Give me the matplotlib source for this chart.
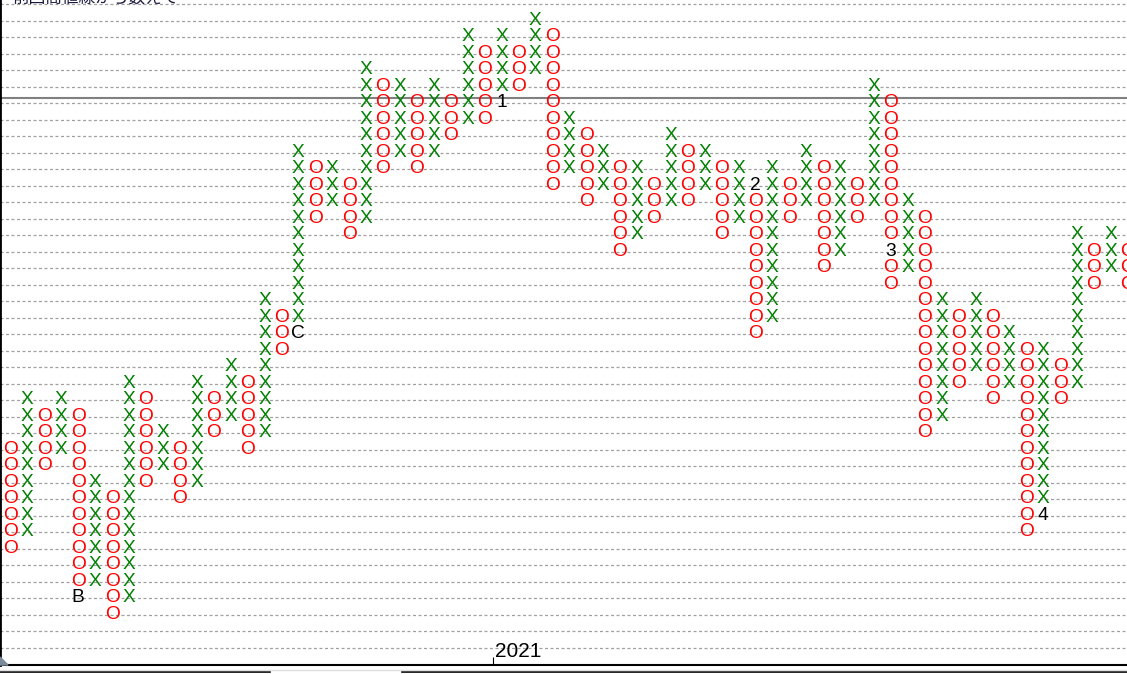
import matplotlib
matplotlib.use('Agg')
import matplotlib.pyplot as plt
from matplotlib.lines import Line2D
from matplotlib.patches import Polygon

# Point & figure columns: box levels counted up from the lowest grid line
col_types = "OXOXOXOXOXOXOXOXOXOXOXOXOXOXOXOXOXOXOXOXOXOXOXOXOXOXOXOXOXOXOXOXOXO"
col_high = [13, 16, 15, 16, 15, 11, 10, 17, 16, 14, 13, 17, 16, 18, 17, 22, 21,
            31, 30, 30, 29, 36, 35, 35, 34, 35, 34, 38, 37, 38, 37, 39, 38, 33,
            32, 31, 30, 30, 29, 32, 31, 31, 30, 30, 29, 30, 29, 31, 30, 30, 29,
            35, 34, 28, 27, 22, 21, 22, 21, 20, 19, 19, 18, 26, 25, 26, 25]
col_low = [7, 8, 12, 13, 4, 5, 3, 4, 11, 12, 10, 11, 14, 15, 13, 14, 19,
           20, 27, 28, 26, 27, 30, 31, 30, 31, 32, 33, 33, 34, 35, 36, 29, 30,
           28, 29, 25, 26, 27, 28, 28, 29, 26, 27, 20, 21, 27, 28, 24, 25, 27,
           28, 23, 24, 14, 15, 17, 18, 16, 17, 8, 9, 16, 17, 23, 24, 23]

# boxes replaced by a month/marker label
label_cols = [4, 17, 29, 44, 52, 61]
label_levels = [4, 20, 34, 29, 25, 9]
label_texts = ['B', 'C', '1', '2', '3', '4']

grid_levels = list(range(1, 41))
price_line = 34.32
year_col = 28.5
year_text = '2021'
note_text = '前回高値線から数えて'

W, H = 1127, 674
fig = plt.figure(figsize=(W / 100, H / 100), dpi=100)
ax = fig.add_axes([0, 9 / H, 1, 665 / H])

ax.set_xlim(-0.62, 65.95)
ax.set_ylim(-0.04, 40.26)

ax.set_yticks(grid_levels)
ax.yaxis.grid(True, linestyle=(0, (2.4, 2.0)), color='#a0a0a0', linewidth=0.9)
ax.tick_params(axis='y', length=0, labelleft=False)
ax.set_xticks([year_col])
ax.set_xticklabels([''])
ax.tick_params(axis='x', direction='in', length=6, width=0.8, color='black')
ax.axhline(price_line, color='#808080', linewidth=1.5)

for side in ['top', 'right']:
    ax.spines[side].set_visible(False)
ax.spines['left'].set_linewidth(2)
ax.spines['bottom'].set_linewidth(1.5)

labels = {(c, l): t for c, l, t in zip(label_cols, label_levels, label_texts)}
sym_font = dict(fontfamily='Liberation Sans', fontsize=13.8, ha='center',
                va='baseline', clip_on=True)
base_off = 0.24

for col, kind in enumerate(col_types):
    for lvl in range(col_low[col], col_high[col] + 1):
        if (col, lvl) in labels:
            ax.text(col, lvl - base_off, labels[(col, lvl)], color='black', **sym_font)
        elif kind == 'X':
            ax.text(col, lvl - base_off, 'X', color='#008000', **sym_font)
        else:
            ax.text(col, lvl - base_off, 'O', color='#ff0000', **sym_font)

ax.annotate(year_text, xy=(year_col, 0), xycoords=('data', 'axes fraction'),
            xytext=(2, 8), textcoords='offset pixels', ha='left', va='baseline',
            fontfamily='Liberation Sans', fontsize=15, color='black')

# clipped caption at the very top
fig.text(12 / W, 1 - 3 / H, note_text, fontfamily='Noto Sans CJK JP',
         fontsize=12, va='baseline', color='#1a1a40')

# window chrome below the plot
fig.add_artist(Line2D([0, 270 / W], [2 / H, 2 / H], color='black', lw=1.2))
fig.add_artist(Line2D([402 / W, 1], [2 / H, 2 / H], color='black', lw=1.2))
fig.add_artist(Line2D([0, 1], [4 / H, 4 / H], color='#e0e0e0', lw=1))
fig.add_artist(Polygon([[0, 9 / H], [8 / W, 9 / H], [0, 17 / H]], closed=True,
                       color='#7a8a99', transform=fig.transFigure))

fig.savefig('out.png', dpi=100)
